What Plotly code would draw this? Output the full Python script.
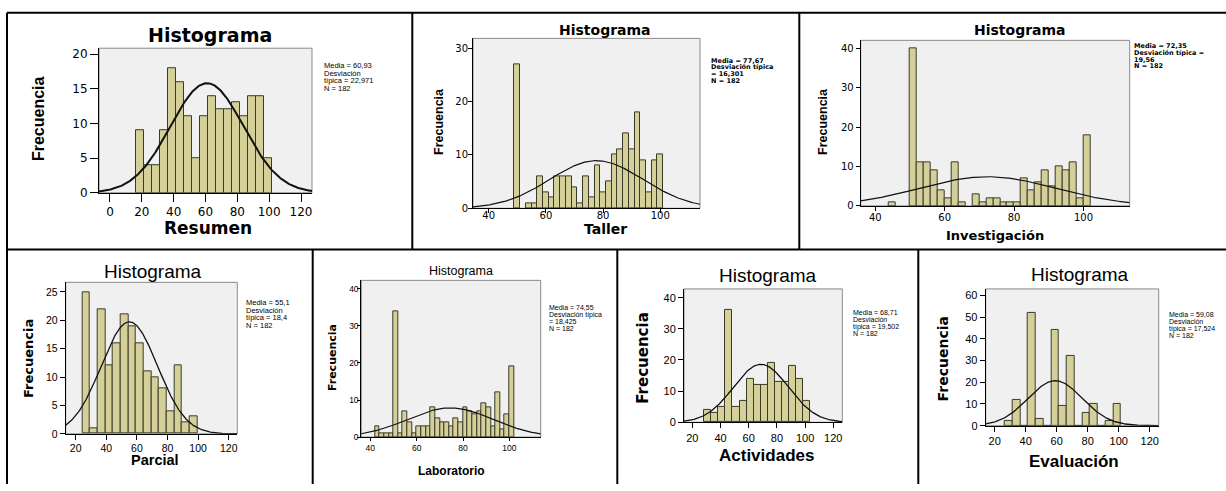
import numpy as np
import plotly.graph_objects as go

W, H = 1226, 491

# ---------------- data ----------------
resumen_centers = [19, 24, 29, 34, 39, 44, 49, 54, 59, 64, 69, 74, 79, 84, 89, 94, 99]
resumen_counts = [9, 4, 4, 9, 18, 16, 11, 5, 11, 14, 12, 12, 13, 11, 14, 14, 5]
resumen_stats = ["Media = 60,93", "Desviación", "típica = 22,971", "N = 182"]

taller_centers = [50, 54, 56, 58, 60, 62, 64, 66, 68, 70, 72, 74, 76, 78, 80, 82, 84, 86, 88, 90, 92, 94, 96, 98, 100]
taller_counts = [27, 1, 1, 6, 3, 2, 6, 6, 6, 4, 1, 6, 2, 8, 3, 5, 10, 11, 14, 11, 18, 9, 3, 9, 10]
taller_stats = ["Media = 77,67", "Desviación típica", "= 16,301", "N = 182"]

invest_centers = [45, 51, 53, 55, 57, 59, 61, 63, 65, 69, 71, 73, 75, 77, 79, 81, 83, 85, 87, 89, 91, 93, 95, 97, 99, 101]
invest_counts = [1, 40, 11, 11, 9, 4, 2, 11, 1, 3, 1, 2, 2, 1, 1, 1, 7, 4, 6, 9, 5, 10, 9, 11, 2, 18]
invest_stats = ["Media = 72,35", "Desviación típica =", "19,56", "N = 182"]

parcial_centers = [27, 32, 37, 42, 47, 52, 57, 62, 67, 72, 77, 82, 87, 92, 97]
parcial_counts = [25, 1, 22, 12, 16, 21, 19, 16, 11, 10, 8, 4, 12, 2, 3]
parcial_stats = ["Media = 55,1", "Desviación", "típica = 18,4", "N = 182"]

lab_centers = [43, 45, 47, 49, 51, 53, 55, 57, 59, 61, 63, 65, 67, 69, 71, 73, 75, 77, 79, 81,
               83, 85, 87, 89, 91, 93, 95, 97, 99, 101]
lab_counts = [3, 1, 1, 1, 34, 1, 7, 4, 1, 3, 3, 3, 8, 5, 4, 4, 3, 5, 4, 8,
              7, 6, 7, 9, 8, 3, 12, 2, 6, 19]
lab_stats = ["Media = 74,55", "Desviación típica", "= 18,425", "N = 182"]

activ_centers = [31, 36, 41, 46, 51, 56, 61, 66, 71, 76, 81, 86, 91, 96, 101]
activ_counts = [4, 3, 5, 36, 5, 7, 14, 12, 12, 19, 13, 13, 18, 14, 7]
activ_stats = ["Media = 68,71", "Desviación", "típica = 19,502", "N = 182"]

eval_centers = [29, 34, 39, 44, 49, 54, 59, 64, 69, 74, 79, 84, 89, 94, 99]
eval_counts = [2, 12, 0, 52, 3, 0, 44, 9, 32, 0, 6, 10, 0, 2, 10]
eval_stats = ["Media = 59,08", "Desviación", "típica = 17,524", "N = 182"]

means = [60.93, 77.67, 72.35, 55.1, 74.55, 68.71, 59.08]
sds = [22.971, 16.301, 19.56, 18.4, 18.425, 19.502, 17.524]
n_obs = 182
bin_widths = [5, 2, 2, 5, 2, 5, 5]
x_titles = ["Resumen", "Taller", "Investigación", "Parcial", "Laboratorio", "Actividades", "Evaluación"]

# ---------------- styling / layout per panel (pixels) ----------------
DJ = "DejaVu Sans"
LS = "Liberation Sans"

panels = [
    dict(c=resumen_centers, n=resumen_counts, st=resumen_stats, box=(99, 312, 48, 195),
         xr=(-6.9, 126.9), yr=(0, 20.85), xt=[0, 20, 40, 60, 80, 100, 120], yt=[0, 5, 10, 15, 20],
         title=(210, 35, DJ, 19, True), xl=(208, 231, DJ, 17, True), yl=(38, 120, LS, 16, True),
         stx=321.7, sty=[66, 73.5, 81, 88.5], stf=(LS, 7.5, False), tick=(DJ, 12), tl=8, lw=2,
         xso=0, yso=0),
    dict(c=taller_centers, n=taller_counts, st=taller_stats, box=(473, 700, 38, 210.7),
         xr=(34.5, 113.9), yr=(0, 31.8), xt=[40, 60, 80, 100], yt=[0, 10, 20, 30],
         title=(605, 29, DJ, 14, True), xl=(605, 232, DJ, 14, True), yl=(439, 123, LS, 12.5, True),
         stx=709, sty=[60.5, 67.5, 74.5, 81.5], stf=(DJ, 6.5, True), tick=(DJ, 10), tl=4, lw=1.2,
         xso=-6, yso=-2),
    dict(c=invest_centers, n=invest_counts, st=invest_stats, box=(860.7, 1129.7, 40, 208.3),
         xr=(35.8, 113.3), yr=(0, 42.1), xt=[40, 60, 80, 100], yt=[0, 10, 20, 30, 40],
         title=(1019.7, 29, DJ, 14, True), xl=(994.7, 238, DJ, 13, True), yl=(823, 123, LS, 12.5, True),
         stx=1132.3, sty=[45.5, 52.5, 59.5, 66.5], stf=(DJ, 6.5, True), tick=(DJ, 10), tl=4, lw=1.2,
         xso=-2, yso=0),
    dict(c=parcial_centers, n=parcial_counts, st=parcial_stats, box=(65.7, 237.3, 286, 440),
         xr=(13.5, 125.6), yr=(0, 26.7), xt=[20, 40, 60, 80, 100, 120], yt=[0, 5, 10, 15, 20, 25],
         title=(153, 275, LS, 19, False), xl=(155, 467, LS, 14.5, True), yl=(28, 364, DJ, 13, True),
         stx=244.3, sty=[307, 314.5, 322, 329.5], stf=(LS, 7.5, False), tick=(LS, 10.5), tl=5, lw=1.3,
         xso=0, yso=0),
    dict(c=lab_centers, n=lab_counts, st=lab_stats, box=(361.3, 540.7, 284, 443.3),
         xr=(36.1, 113.5), yr=(0, 42.3), xt=[40, 60, 80, 100], yt=[0, 10, 20, 30, 40],
         title=(461, 274, LS, 12.5, False), xl=(451.3, 477.5, LS, 12, True), yl=(332, 363, DJ, 11, True),
         stx=547, sty=[312, 319, 326, 333], stf=(LS, 7, False), tick=(LS, 8.5), tl=3, lw=1.2,
         xso=0, yso=-3),
    dict(c=activ_centers, n=activ_counts, st=activ_stats, box=(684, 842.3, 292.7, 428.3),
         xr=(14.1, 126.4), yr=(0, 42.8), xt=[20, 40, 60, 80, 100, 120], yt=[0, 10, 20, 30, 40],
         title=(768.3, 279.3, LS, 19, False), xl=(766.7, 462, LS, 17, True), yl=(643.3, 363.3, DJ, 15, True),
         stx=850.7, sty=[317, 324, 331, 338], stf=(LS, 7, False), tick=(LS, 11), tl=5, lw=1.3,
         xso=0, yso=0),
    dict(c=eval_centers, n=eval_counts, st=eval_stats, box=(985.7, 1158.7, 292.7, 431.7),
         xr=(14.2, 125.8), yr=(0, 63), xt=[20, 40, 60, 80, 100, 120], yt=[0, 10, 20, 30, 40, 50, 60],
         title=(1079.7, 278.3, LS, 19, False), xl=(1074, 468.5, LS, 17, True), yl=(943, 363.3, DJ, 14, True),
         stx=1167.3, sty=[319, 326, 333, 340], stf=(LS, 7, False), tick=(LS, 11), tl=5, lw=1.3,
         xso=0, yso=0),
]

BAR_FILL = "#d5cf9a"
BAR_LINE = "#3a3a2a"
PLOT_BG = "#f0f0f0"


def px(x):
    return x / W


def py(y):
    return 1 - y / H


fig = go.Figure()
annotations = []
shapes = []
layout = {}


def ann(text, x, y, fam, size, bold, angle=0, xanchor="center", yanchor="middle"):
    annotations.append(dict(text=text, x=px(x), y=py(y), xref="paper", yref="paper",
                            showarrow=False, xanchor=xanchor, yanchor=yanchor, textangle=angle,
                            font=dict(family=fam, size=size, color="black",
                                      weight="bold" if bold else "normal")))


for i, p in enumerate(panels):
    k = "" if i == 0 else str(i + 1)
    xa, ya = "x" + k, "y" + k
    L, R, T, B = p["box"]
    fig.add_trace(go.Bar(x=p["c"], y=p["n"], width=bin_widths[i], xaxis=xa, yaxis=ya,
                         marker=dict(color=BAR_FILL, line=dict(color=BAR_LINE, width=1)),
                         showlegend=False, hoverinfo="x+y"))
    # normal curve fitted from the reported mean / sd
    xs = np.linspace(p["xr"][0], p["xr"][1], 300)
    ys = n_obs * bin_widths[i] * np.exp(-0.5 * ((xs - means[i]) / sds[i]) ** 2) / (sds[i] * np.sqrt(2 * np.pi))
    fig.add_trace(go.Scatter(x=xs, y=ys, mode="lines", xaxis=xa, yaxis=ya,
                             line=dict(color="#111111", width=p["lw"]), showlegend=False, hoverinfo="skip"))

    tf = dict(family=p["tick"][0], size=p["tick"][1], color="black")
    common = dict(tickmode="array", ticks="outside", ticklen=p["tl"], tickcolor="black", tickwidth=1,
                  showgrid=False, zeroline=False, showline=True, linecolor="black", linewidth=1,
                  tickfont=tf, fixedrange=True)
    layout["xaxis" + k] = dict(domain=[px(L), px(R)], anchor=ya, range=list(p["xr"]),
                               tickvals=p["xt"], ticklabelstandoff=p["xso"], **common)
    layout["yaxis" + k] = dict(domain=[py(B), py(T)], anchor=xa, range=list(p["yr"]),
                               tickvals=p["yt"], ticklabelstandoff=p["yso"], **common)
    shapes.append(dict(type="rect", xref="paper", yref="paper", x0=px(L), x1=px(R), y0=py(B), y1=py(T),
                       fillcolor=PLOT_BG, line=dict(color="#8a8a8a", width=1), layer="below"))

    tx, ty, tfam, tsz, tb = p["title"]
    ann("Histograma", tx, ty, tfam, tsz, tb)
    lx, ly, lfam, lsz, lb = p["xl"]
    ann(x_titles[i], lx, ly, lfam, lsz, lb)
    yx, yy, yfam, ysz, yb = p["yl"]
    ann("Frecuencia", yx, yy, yfam, ysz, yb, angle=-90)
    for line, yv in zip(p["st"], p["sty"]):
        ann(line, p["stx"], yv, p["stf"][0], p["stf"][1], p["stf"][2], xanchor="left")

# collage frame lines
frame = [
    (7, 12, 1226, 12), (7, 12, 7, 491), (7, 252.5, 1226, 252.5),
    (412.3, 12, 412.3, 252.5), (799.3, 12, 799.3, 252.5),
    (312.7, 252.5, 312.7, 491), (617.3, 252.5, 617.3, 491), (918.3, 252.5, 918.3, 491),
]
for x0, y0, x1, y1 in frame:
    shapes.append(dict(type="line", xref="paper", yref="paper", x0=px(x0), y0=py(y0), x1=px(x1), y1=py(y1),
                       line=dict(color="black", width=2)))

fig.update_layout(width=W, height=H, margin=dict(l=0, r=0, t=0, b=0),
                  paper_bgcolor="white", plot_bgcolor="rgba(0,0,0,0)",
                  bargap=0, showlegend=False, annotations=annotations, shapes=shapes, **layout)

fig.write_html("out.html", config={"displayModeBar": False},
               post_script="document.body.style.margin='0';document.body.style.overflow='hidden';")
